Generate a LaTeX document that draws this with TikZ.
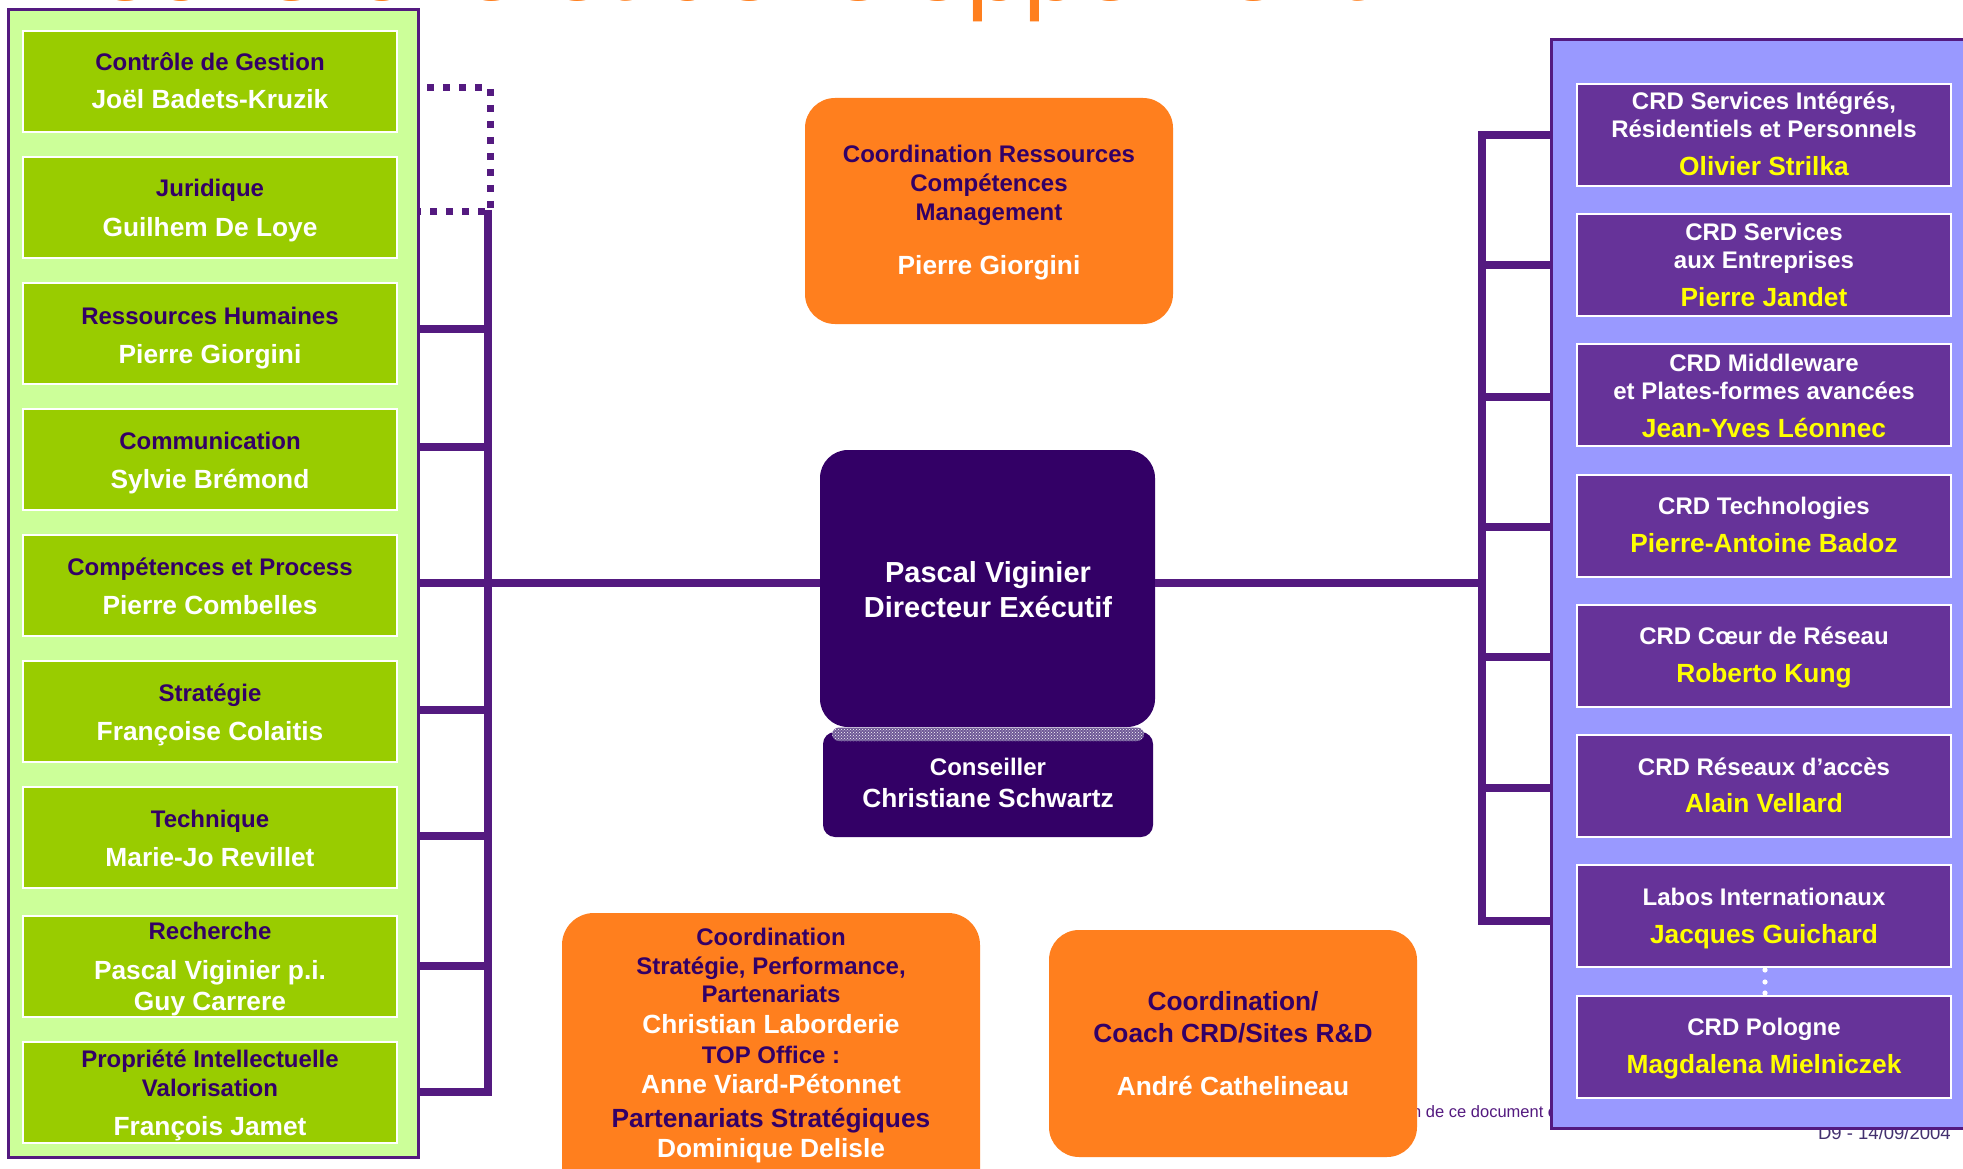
\documentclass[tikz,border=0pt]{standalone}
\usepackage{fontspec}
\setmainfont{Liberation Sans}
\usetikzlibrary{patterns,calc}
\definecolor{lpanel}{HTML}{CCFF99}
\definecolor{lgreen}{HTML}{99CC00}
\definecolor{dpurple}{HTML}{330066}
\definecolor{lnpurple}{HTML}{541A80}
\definecolor{rpanel}{HTML}{9999FF}
\definecolor{rviolet}{HTML}{663399}
\definecolor{orng}{HTML}{FF7F1E}
\definecolor{yel}{HTML}{FFFF00}
\definecolor{footgray}{HTML}{43306F}
\definecolor{chk}{HTML}{6E5896}
\newcommand\fsz[1]{\fontsize{#1}{#1}\selectfont}
\newcommand\bxt[5]{\node[#1] (#2) at ([yshift=-#4pt]#3.north) {#5};}
\begin{document}
\begin{tikzpicture}[x=1pt,y=-1pt,
 bus/.style={draw=lnpurple, line width=7.5pt},
 dotline/.style={draw=lnpurple, line width=7pt, dash pattern=on 7pt off 9pt, dash phase=7pt},
 lbox/.style={draw=white, line width=2.5pt, fill=lgreen, minimum width=374pt, minimum height=101pt, anchor=north west, inner sep=0pt, outer sep=0pt},
 rbox/.style={draw=white, line width=2.5pt, fill=rviolet, minimum width=374pt, minimum height=102pt, anchor=north west, inner sep=0pt, outer sep=0pt},
 ttl/.style={anchor=base, inner sep=0pt, font=\bfseries\fsz{24}, text=dpurple},
 wttl/.style={ttl, text=white},
 nm/.style={anchor=base, inner sep=0pt, font=\bfseries\fsz{26.3}, text=white},
 ynm/.style={nm, text=yel},
 pnm/.style={nm, text=dpurple},
 obox/.style={fill=orng, rounded corners=30pt, anchor=north west, inner sep=0pt, outer sep=0pt},
 panel/.style={draw=lnpurple, line width=3pt, anchor=north west, inner sep=0pt, outer sep=0pt},
]
\useasboundingbox (0,0) rectangle (1963,1169);
\fill[white] (0,0) rectangle (1963,1169);

% title (mostly above the page)
\begin{scope}
\clip (0,0) rectangle (1963,1169);
\node[anchor=base west, inner sep=0pt, text=orng, font=\fsz{103}] (title) at (22,0.5) {Recherche et développement};
\end{scope}

% footer
\node[anchor=base west, inner sep=0pt, font=\fsz{16.5}, text=lnpurple] (foot) at (1412,1117) {n de ce document e};
\node[anchor=base east, inner sep=0pt, font=\fsz{18.5}, text=footgray] (date) at (1951,1139) {D9 - 14/09/2004};

% panels
\node[panel, fill=lpanel, minimum width=410pt, minimum height=1147pt] (lp) at (8,10) {};
\node[panel, fill=rpanel, minimum width=440pt, minimum height=1088pt] (rp) at (1551,40) {};

% left boxes
\node[lbox] (g1) at (23,31) {};
\node[lbox] (g2) at (23,157) {};
\node[lbox] (g3) at (23,283) {};
\node[lbox] (g4) at (23,409) {};
\node[lbox] (g5) at (23,535) {};
\node[lbox] (g6) at (23,661) {};
\node[lbox] (g7) at (23,787) {};
\node[lbox] (g8) at (23,916) {};
\node[lbox] (g9) at (23,1042) {};
\bxt{ttl}{g1a}{g1}{40}{Contrôle de Gestion}
\bxt{nm}{g1b}{g1}{78}{Joël Badets-Kruzik}
\bxt{ttl}{g2a}{g2}{40}{Juridique}
\bxt{nm}{g2b}{g2}{80}{Guilhem De Loye}
\bxt{ttl}{g3a}{g3}{41}{Ressources Humaines}
\bxt{nm}{g3b}{g3}{80}{Pierre Giorgini}
\bxt{ttl}{g4a}{g4}{40}{Communication}
\bxt{nm}{g4b}{g4}{79}{Sylvie Brémond}
\bxt{ttl}{g5a}{g5}{40}{Compétences et Process}
\bxt{nm}{g5b}{g5}{79}{Pierre Combelles}
\bxt{ttl}{g6a}{g6}{40}{Stratégie}
\bxt{nm}{g6b}{g6}{79}{Françoise Colaitis}
\bxt{ttl}{g7a}{g7}{40}{Technique}
\bxt{nm}{g7b}{g7}{79}{Marie-Jo Revillet}
\bxt{ttl}{g8a}{g8}{23}{Recherche}
\bxt{nm}{g8b}{g8}{63}{Pascal Viginier p.i.}
\bxt{nm}{g8c}{g8}{94}{Guy Carrere}
\bxt{ttl}{g9a}{g9}{25}{Propriété Intellectuelle}
\bxt{ttl}{g9b}{g9}{54}{Valorisation}
\bxt{nm}{g9c}{g9}{93}{François Jamet}

% right boxes
\node[rbox] (r1) at (1577,84) {};
\node[rbox] (r2) at (1577,214) {};
\node[rbox] (r3) at (1577,344) {};
\node[rbox] (r4) at (1577,475) {};
\node[rbox] (r5) at (1577,605) {};
\node[rbox] (r6) at (1577,735) {};
\node[rbox] (r7) at (1577,865) {};
\node[rbox] (r8) at (1577,996) {};
\bxt{wttl}{r1a}{r1}{26}{CRD Services Intégrés,}
\bxt{wttl}{r1b}{r1}{54}{Résidentiels et Personnels}
\bxt{ynm}{r1c}{r1}{92}{Olivier Strilka}
\bxt{wttl}{r2a}{r2}{27}{CRD Services}
\bxt{wttl}{r2b}{r2}{55}{aux Entreprises}
\bxt{ynm}{r2c}{r2}{92}{Pierre Jandet}
\bxt{wttl}{r3a}{r3}{27}{CRD Middleware}
\bxt{wttl}{r3b}{r3}{55}{et Plates-formes avancées}
\bxt{ynm}{r3c}{r3}{93}{Jean-Yves Léonnec}
\bxt{wttl}{r4a}{r4}{39}{CRD Technologies}
\bxt{ynm}{r4b}{r4}{77}{Pierre-Antoine Badoz}
\bxt{wttl}{r5a}{r5}{39}{CRD Cœur de Réseau}
\bxt{ynm}{r5b}{r5}{77}{Roberto Kung}
\bxt{wttl}{r6a}{r6}{40}{CRD Réseaux d’accès}
\bxt{ynm}{r6b}{r6}{77}{Alain Vellard}
\bxt{wttl}{r7a}{r7}{40}{Labos Internationaux}
\bxt{ynm}{r7b}{r7}{78}{Jacques Guichard}
\bxt{wttl}{r8a}{r8}{39}{CRD Pologne}
\bxt{ynm}{r8b}{r8}{77}{Magdalena Mielniczek}
\fill[white] (1765,970) circle (2.6pt) (1765,982) circle (2.6pt) (1765,993) circle (2.6pt);

% director and adviser
\node[fill=dpurple, rounded corners=28pt, minimum width=335pt, minimum height=277pt, anchor=north west, inner sep=0pt, outer sep=0pt] (dir) at (820,450) {};
\node[fill=dpurple, rounded corners=12pt, minimum width=330pt, minimum height=105pt, anchor=north west, inner sep=0pt, outer sep=0pt] (cons) at (823,732) {};
\fill[chk, rounded corners=7pt] (832,727.5) rectangle (1144,741);
\fill[pattern=crosshatch dots, pattern color=white, rounded corners=7pt] (832,727.5) rectangle (1144,741);
\node[nm, font=\bfseries\fsz{29}] (dirA) at (988,582) {Pascal Viginier};
\node[nm, font=\bfseries\fsz{29}] (dirB) at (988,617) {Directeur Exécutif};
\node[nm, font=\bfseries\fsz{24}] (consA) at (988,775) {Conseiller};
\node[nm] (consB) at (988,807) {Christiane Schwartz};

% orange boxes
\node[obox, minimum width=368pt, minimum height=226pt] (o1) at (805,98) {};
\node[ttl] (o1a) at (989,163) {Coordination Ressources};
\node[ttl] (o1b) at (989,192) {Compétences};
\node[ttl] (o1c) at (989,221) {Management};
\node[nm] (o1d) at (989,275) {Pierre Giorgini};

\node[obox, rounded corners=32pt, minimum width=418pt, minimum height=300pt] (o2) at (562,913) {};
\node[ttl] (o2a) at (771,945) {Coordination};
\node[ttl] (o2b) at (771,974) {Stratégie, Performance,};
\node[ttl] (o2c) at (771,1002) {Partenariats};
\node[nm] (o2d) at (771,1033) {Christian Laborderie};
\node[ttl] (o2e) at (771,1063) {TOP Office :};
\node[nm] (o2f) at (771,1093) {Anne Viard-Pétonnet};
\node[pnm] (o2g) at (771,1127) {Partenariats Stratégiques};
\node[nm] (o2h) at (771,1157) {Dominique Delisle};

\node[obox, minimum width=368pt, minimum height=227pt] (o3) at (1049,930) {};
\node[pnm] (o3a) at (1233,1010) {Coordination/};
\node[pnm] (o3b) at (1233,1042) {Coach CRD/Sites R\&D};
\node[nm] (o3c) at (1233,1095) {André Cathelineau};

% left connectors
\coordinate (d1) at (490,88);
\coordinate (d2) at (490,212);
\draw[dotline] (lp.east |- d1) -- (d1) -- (d2) -- (lp.east |- d2);
\foreach \y [count=\i] in {329,447,583,710,836,966,1092} \coordinate (lt\i) at (488,\y);
\coordinate (ltop) at (488,210);
\draw[bus] (ltop) -- ([yshift=-3.75pt]lt7);
\foreach \i in {1,...,7} \draw[bus] (lp.east |- lt\i) -- ([xshift=3.75pt]lt\i);
\draw[bus] (lt3) -- (dir.west |- lt3);

% right connectors
\foreach \y [count=\i] in {135,265,397,527,657,788,921} \coordinate (rt\i) at (1482,\y);
\draw[bus] ([yshift=3.75pt]rt1) -- ([yshift=-3.75pt]rt7);
\foreach \i in {1,...,7} \draw[bus] ([xshift=-3.75pt]rt\i) -- (rp.west |- rt\i);
\draw[bus] (dir.east |- lt3) -- (rt1 |- lt3);
\end{tikzpicture}
\end{document}
